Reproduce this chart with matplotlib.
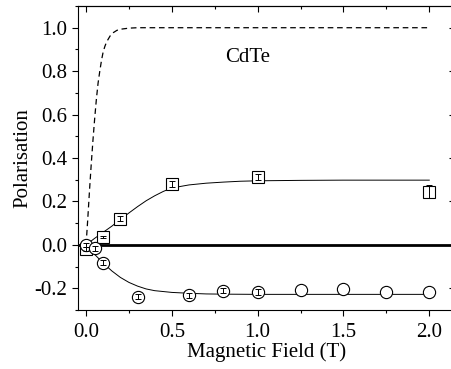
import numpy as np
import matplotlib
matplotlib.use("Agg")
import matplotlib.pyplot as plt
from matplotlib.ticker import MultipleLocator, FormatStrFormatter

plt.rcParams['font.family'] = ['Liberation Serif', 'DejaVu Serif']
plt.rcParams['axes.unicode_minus'] = False

# data points (field in T, polarisation)
sq_x = [0.0, 0.1, 0.2, 0.5, 1.0, 2.0]
sq_y = [-0.02, 0.037, 0.12, 0.28, 0.313, 0.245]
sq_err = [0.008, 0.005, 0.012, 0.012, 0.013, 0.03]

ci_x = [0.0, 0.05, 0.1, 0.3, 0.6, 0.8, 1.0, 1.25, 1.5, 1.75, 2.0]
ci_y = [0.0, -0.015, -0.083, -0.238, -0.233, -0.212, -0.217, -0.207, -0.201, -0.215, -0.215]
ci_err = [0.01, 0.012, 0.012, 0.012, 0.012, 0.012, 0.012, 0.0, 0.0, 0.0, 0.0]

# fit curves
fit_up_x = [0.0, 0.05, 0.1, 0.15, 0.2, 0.25, 0.3, 0.35, 0.4, 0.45, 0.5, 0.6, 0.7, 0.8, 0.9, 1.0, 1.25, 1.5, 2.0]
fit_up_y = [0.0, 0.03, 0.058, 0.086, 0.117, 0.147, 0.176, 0.203, 0.226, 0.246, 0.262, 0.276, 0.284, 0.289, 0.293, 0.295, 0.297, 0.298, 0.298]

fit_dn_x = [0.0, 0.05, 0.1, 0.15, 0.2, 0.25, 0.3, 0.35, 0.4, 0.5, 0.6, 0.7, 0.8, 1.0, 1.5, 2.0]
fit_dn_y = [0.0, -0.044, -0.084, -0.12, -0.15, -0.173, -0.19, -0.203, -0.211, -0.219, -0.223, -0.226, -0.227, -0.228, -0.228, -0.228]

dash_x = [0.0, 0.01, 0.02, 0.03, 0.04, 0.05, 0.06, 0.07, 0.08, 0.09, 0.10, 0.11, 0.12, 0.14, 0.16, 0.18, 0.2, 0.25, 0.3, 2.0]
dash_y = [0.0, 0.12, 0.25, 0.37, 0.48, 0.58, 0.67, 0.745, 0.80, 0.85, 0.89, 0.915, 0.935, 0.962, 0.978, 0.988, 0.993, 0.998, 1.0, 1.0]

fig = plt.figure(figsize=(4.52, 3.69), dpi=100)
ax = fig.add_axes([78/452, 59/369, 377/452, 304/369])

ax.axhline(0, color='black', lw=2.0, zorder=1)
ax.plot(dash_x, dash_y, color='black', lw=0.9, dashes=(4.5, 3), zorder=2)
ax.plot(fit_up_x, fit_up_y, color='black', lw=0.7, zorder=2)
ax.plot(fit_dn_x, fit_dn_y, color='black', lw=0.7, zorder=2)

ax.plot(sq_x, sq_y, 's', ms=8, mfc='white', mec='black', mew=0.8, zorder=3)
ax.plot(ci_x, ci_y, 'o', ms=8.8, mfc='white', mec='black', mew=0.8, zorder=3)

# error bars only where there is one
for xs, ys, es in [(sq_x, sq_y, sq_err), (ci_x, ci_y, ci_err)]:
    keep = [i for i in range(len(xs)) if es[i] > 0]
    ax.errorbar([xs[i] for i in keep], [ys[i] for i in keep],
                yerr=[es[i] for i in keep], fmt='none', ecolor='black',
                elinewidth=0.7, capsize=2.4, capthick=0.7, zorder=4)

ax.text(0.94, 0.862, 'CdTe', fontsize=15, ha='center', va='center')

ax.set_xlim(-0.047, 2.15)
ax.set_ylim(-0.3, 1.1)
ax.xaxis.set_major_locator(MultipleLocator(0.5))
ax.xaxis.set_minor_locator(MultipleLocator(0.25))
ax.yaxis.set_major_locator(MultipleLocator(0.2))
ax.yaxis.set_minor_locator(MultipleLocator(0.1))
ax.xaxis.set_major_formatter(FormatStrFormatter('%.1f'))
ax.yaxis.set_major_formatter(FormatStrFormatter('%.1f'))

ax.tick_params(which='both', labelsize=15, width=0.8, direction='out', pad=3)
ax.tick_params(which='major', length=4.5)
ax.tick_params(which='minor', length=2.5)
ax.tick_params(axis='x', which='major', pad=5)

# mirrored ticks on top and right, pointing inwards
sx = ax.secondary_xaxis('top')
sx.xaxis.set_major_locator(MultipleLocator(0.5))
sx.xaxis.set_minor_locator(MultipleLocator(0.25))
sx.tick_params(which='both', direction='in', labeltop=False, width=0.8)
sx.tick_params(which='major', length=4.5)
sx.tick_params(which='minor', length=2.5)
sy = ax.secondary_yaxis('right')
sy.yaxis.set_major_locator(MultipleLocator(0.2))
sy.yaxis.set_minor_locator(MultipleLocator(0.1))
sy.tick_params(which='both', direction='in', labelright=False, width=0.8)
sy.tick_params(which='major', length=4.5)
sy.tick_params(which='minor', length=2.5)

for s in ax.spines.values():
    s.set_linewidth(0.8)

ax.set_xlabel('Magnetic Field (T)', fontsize=15, labelpad=0)
ax.set_ylabel('Polarisation', fontsize=15, labelpad=2)

fig.savefig('out.png', dpi=100)
